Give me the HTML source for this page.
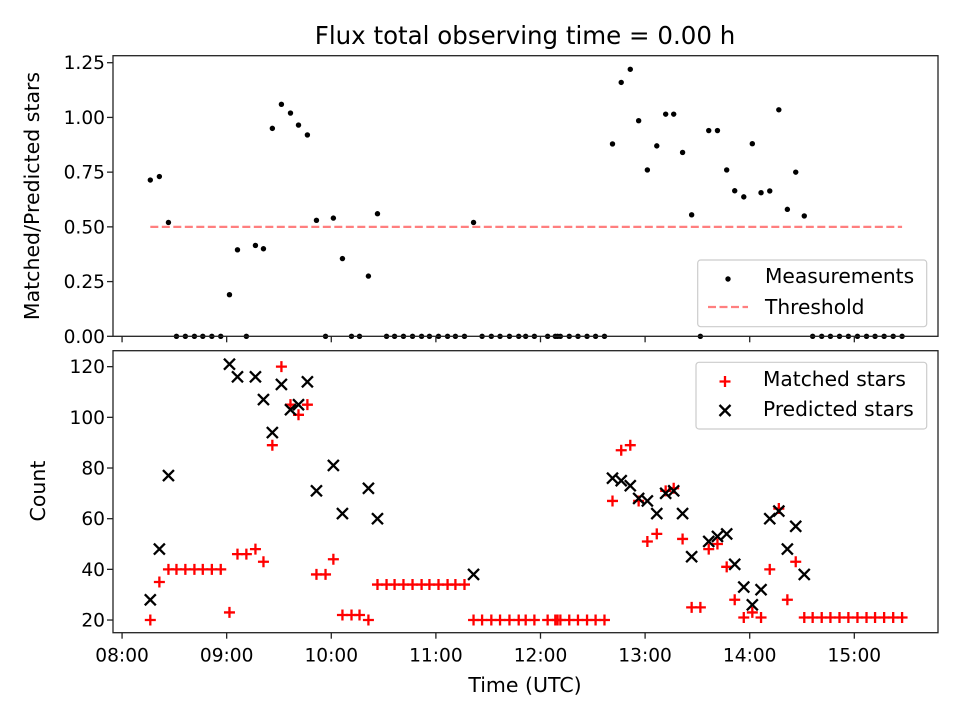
<!DOCTYPE html>
<html><head><meta charset="utf-8">
<style>
body{margin:0;background:#fff;}
svg{display:block;font-family:"DejaVu Sans","Liberation Sans",sans-serif;}
</style></head>
<body>
<svg id="fig" width="960" height="720" viewBox="0 0 960 720" xmlns="http://www.w3.org/2000/svg">
<rect x="0" y="0" width="960" height="720" fill="#fff"/>
<text x="525" y="44" font-size="24.5" text-anchor="middle" fill="#000">Flux total observing time = 0.00 h</text>
<g id="topPanel"></g>
<g id="botPanel"></g>
<text transform="translate(39,196) rotate(-90)" font-size="20.5" text-anchor="middle" fill="#000">Matched/Predicted stars</text>
<text transform="translate(45,491) rotate(-90)" font-size="20.5" text-anchor="middle" fill="#000">Count</text>
<text x="525" y="692" font-size="20.5" text-anchor="middle" fill="#000">Time (UTC)</text>
</svg>
<script>
// minutes after 08:00
const times = [16.2,21.4,26.6,31.2,36.3,41.5,46.3,51.5,56.6,61.6,66.2,71.3,76.5,81.1,86.2,91.4,96.6,101.2,106.3,111.5,116.7,121.2,126.4,131.6,136.2,141.3,146.5,151.7,156.3,161.4,166.6,171.8,176.3,181.5,186.7,191.2,196.4,201.6,206.5,211.8,216.8,222.2,227.5,231.5,236.5,244.1,248.5,249.8,251.4,256.5,261.5,266.7,271.6,276.7,281.3,286.3,291.5,296.3,301.3,306.7,311.8,316.4,321.5,326.7,331.7,336.5,341.5,346.8,351.4,356.6,361.5,366.5,371.5,376.7,381.6,386.4,391.3,396.1,401.3,406.3,411.5,416.6,421.8,427.0,431.9,437.1,442.3,447.4];
const matched = [20,35,40,40,40,40,40,40,40,23,46,46,48,43,89,120,105,101,105,38,38,44,22,22,22,20,34,34,34,34,34,34,34,34,34,34,34,20,20,20,20,20,20,20,20,20,20,20,20,20,20,20,20,20,67,87,89,67,51,54,71,72,52,25,25,48,50,41,28,21,23,21,40,64,28,43,21,21,21,21,21,21,21,21,21,21,21,21];
const predicted = [28,48,77,null,null,null,null,null,null,121,116,null,116,107,94,113,103,105,114,71,null,81,62,null,null,72,60,null,null,null,null,null,null,null,null,null,null,38,null,null,null,null,null,null,null,null,null,null,null,null,null,null,null,null,76,75,73,68,67,62,70,71,62,45,null,51,53,54,42,33,26,32,60,63,48,57,38,null,null,null,null,null,null,null,null,null,null,null];
const ratio = [0.714,0.73,0.52,0,0,0,0,0,0,0.19,0.395,0,0.415,0.40,0.95,1.06,1.02,0.965,0.92,0.53,0,0.54,0.355,0,0,0.275,0.56,0,0,0,0,0,0,0,0,0,0,0.52,0,0,0,0,0,0,0,0,0,0,0,0,0,0,0,0,0.879,1.16,1.22,0.985,0.76,0.87,1.015,1.015,0.84,0.555,0,0.94,0.94,0.76,0.665,0.637,0.88,0.656,0.664,1.035,0.58,0.75,0.55,0,0,0,0,0,0,0,0,0,0,0];
const threshold = 0.5;
const xTickLabels = ["08:00","09:00","10:00","11:00","12:00","13:00","14:00","15:00"];
const xTickMinutes = [0,60,120,180,240,300,360,420];
const topTicks = [0,0.25,0.5,0.75,1.0,1.25];
const botTicks = [20,40,60,80,100,120];

const NS="http://www.w3.org/2000/svg";
const L=113,R=938;
const xMin=-5.2,xMax=468;
const X=t=>L+(t-xMin)/(xMax-xMin)*(R-L);
const TT=55.7,TB=336.3, tMin=0,tMax=1.282;
const YT=v=>TB-(v-tMin)/(tMax-tMin)*(TB-TT);
const BT=350.7,BB=632.7, bMin=15,bMax=126.3;
const YB=v=>BB-(v-bMin)/(bMax-bMin)*(BB-BT);
const FS=20.2, TFS=18.6;
function mk(tag,attrs,parent){const e=document.createElementNS(NS,tag);for(const k in attrs)e.setAttribute(k,attrs[k]);parent.appendChild(e);return e;}
const topG=document.getElementById('topPanel'), botG=document.getElementById('botPanel');
const tc="#222";

function axesFrame(g,yT,yB,ticks,Y,fmt,showX,name){
  xTickMinutes.forEach((m,i)=>{
    const x=X(m);
    const tk=mk('line',{x1:x,x2:x,y1:yB,y2:yB+6,stroke:tc,'stroke-width':1.3},g);
    
    
    if(showX){
      const t=mk('text',{x:x,y:yB+29,'font-size':TFS,'text-anchor':'middle',fill:'#000'},g);
      t.textContent=xTickLabels[i];
      
      
    }
  });
  ticks.forEach(v=>{
    const y=Y(v);
    const tk=mk('line',{x1:L-6,x2:L,y1:y,y2:y,stroke:tc,'stroke-width':1.3},g);
    
    
    const t=mk('text',{x:L-8,y:y+6.5,'font-size':TFS,'text-anchor':'end',fill:'#000'},g);
    t.textContent=fmt(v);
    
    
  });
}
axesFrame(topG,TT,TB,topTicks,YT,v=>v.toFixed(2),false,'top');
axesFrame(botG,BT,BB,botTicks,YB,v=>String(v),true,'bottom');

const th=mk('line',{x1:X(times[0]),x2:X(times[times.length-1]),y1:YT(threshold),y2:YT(threshold),stroke:'#ff7f7f','stroke-width':2.2,'stroke-dasharray':'8,3.5'},topG);



times.forEach((t,i)=>{
  const c=mk('circle',{cx:X(t),cy:YT(ratio[i]),r:2.7,fill:'#000'},topG);
  
  
});
times.forEach((t,i)=>{
  const x=X(t),y=YB(matched[i]),s=5.5;
  const p=mk('path',{d:`M${x-s},${y}H${x+s}M${x},${y-s}V${y+s}`,stroke:'#ff0000','stroke-width':2.3,fill:'none'},botG);
  
  
});
times.forEach((t,i)=>{
  if(predicted[i]==null)return;
  const x=X(t),y=YB(predicted[i]),s=5.5;
  const p=mk('path',{d:`M${x-s},${y-s}L${x+s},${y+s}M${x-s},${y+s}L${x+s},${y-s}`,stroke:'#000','stroke-width':2.3,fill:'none'},botG);
  
  
});

const f1=mk('rect',{x:L,y:TT,width:R-L,height:TB-TT,fill:'none',stroke:tc,'stroke-width':1.3},topG);


const f2=mk('rect',{x:L,y:BT,width:R-L,height:BB-BT,fill:'none',stroke:tc,'stroke-width':1.3},botG);



const lg1=mk('g',{},topG);


mk('rect',{x:697.7,y:260,width:229,height:66.7,rx:3,fill:'#fff','fill-opacity':0.8,stroke:'#ccc','stroke-width':1.2},lg1);
mk('circle',{cx:728,cy:279,r:2.7,fill:'#000'},lg1);
const t1=mk('text',{x:765,y:283,'font-size':FS,fill:'#000'},lg1);t1.textContent='Measurements';


mk('line',{x1:708,x2:748,y1:307,y2:307,stroke:'#ff7f7f','stroke-width':2.2,'stroke-dasharray':'8,3.5'},lg1);
const t2=mk('text',{x:765,y:314,'font-size':FS,fill:'#000'},lg1);t2.textContent='Threshold';



const lg2=mk('g',{},botG);


mk('rect',{x:696,y:362.3,width:230.7,height:66.7,rx:3,fill:'#fff','fill-opacity':0.8,stroke:'#ccc','stroke-width':1.2},lg2);
mk('path',{d:'M719.5,381.5H730.5M725,376V387',stroke:'#ff0000','stroke-width':2.3},lg2);
const t3=mk('text',{x:763,y:386,'font-size':FS,fill:'#000'},lg2);t3.textContent='Matched stars';


mk('path',{d:'M719.5,405L730.5,416M719.5,416L730.5,405',stroke:'#000','stroke-width':2.3},lg2);
const t4=mk('text',{x:763,y:416,'font-size':FS,fill:'#000'},lg2);t4.textContent='Predicted stars';


</script>
</body></html>
